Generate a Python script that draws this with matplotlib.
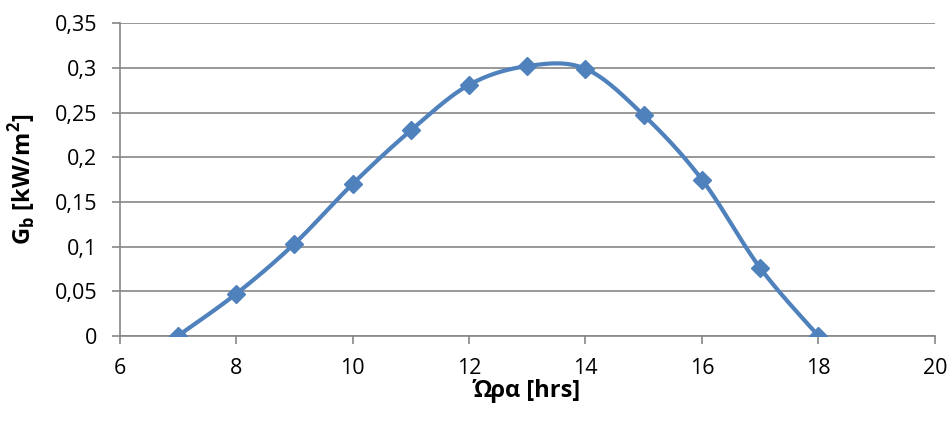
import matplotlib
matplotlib.use("Agg")
import matplotlib.pyplot as plt
from matplotlib.ticker import FuncFormatter
import numpy as np

plt.rcParams["font.family"] = ["Open Sans", "DejaVu Sans"]

hours = [7, 8, 9, 10, 11, 12, 13, 14, 15, 16, 17, 18]
gb = [0.0, 0.047, 0.103, 0.170, 0.230, 0.281, 0.302, 0.299, 0.247, 0.175, 0.076, 0.0]


def smooth(xs, ys, n=30):
    # Catmull-Rom style curve through the points, like Excel's smoothed line
    xs = np.asarray(xs, float)
    ys = np.asarray(ys, float)
    px = np.concatenate([[xs[0]], xs, [xs[-1]]])
    py = np.concatenate([[ys[0]], ys, [ys[-1]]])
    ox, oy = [], []
    t = np.linspace(0, 1, n)
    for i in range(1, len(px) - 2):
        for p, out in ((px, ox), (py, oy)):
            p0, p1, p2, p3 = p[i - 1], p[i], p[i + 1], p[i + 2]
            out.extend(0.5 * (2 * p1 + (-p0 + p2) * t
                              + (2 * p0 - 5 * p1 + 4 * p2 - p3) * t**2
                              + (-p0 + 3 * p1 - 3 * p2 + p3) * t**3))
    return np.array(ox), np.array(oy)


fig = plt.figure(figsize=(9.5, 4.3), dpi=100)
ax = fig.add_axes([0.126, 0.219, 0.858, 0.727])

sx, sy = smooth(hours, gb)
ax.plot(sx, sy, color="#4F81BD", lw=3, zorder=3)
ax.plot(hours, gb, linestyle="none", marker="D", ms=9, color="#4F81BD", zorder=4)

ax.set_xlim(6, 20)
ax.set_ylim(0, 0.35)
ax.set_xticks(np.arange(6, 21, 2))
ax.set_yticks(np.arange(0, 0.351, 0.05))
fmt = lambda v, p: ("%g" % round(v, 2)).replace(".", ",")
ax.yaxis.set_major_formatter(FuncFormatter(fmt))
ax.grid(axis="y", color="#868686", lw=1.2)
ax.set_axisbelow(True)
for s in ["top", "right"]:
    ax.spines[s].set_visible(False)
for s in ["left", "bottom"]:
    ax.spines[s].set_color("#868686")
    ax.spines[s].set_linewidth(1.2)
ax.tick_params(axis="both", colors="#868686", labelcolor="black", labelsize=15.5,
               length=6, width=1.2)
ax.tick_params(axis="y", pad=10)
ax.tick_params(axis="x", pad=10)

ax.set_xlabel("Ώρα [hrs]", fontsize=17, fontweight="bold", labelpad=0)
ax.set_ylabel("G$_\\mathregular{b}$ [kW/m$^\\mathregular{2}$]", fontsize=17,
              fontweight="bold")
ax.yaxis.set_label_coords(-0.099, 0.5)

fig.savefig("out.png", dpi=100)
